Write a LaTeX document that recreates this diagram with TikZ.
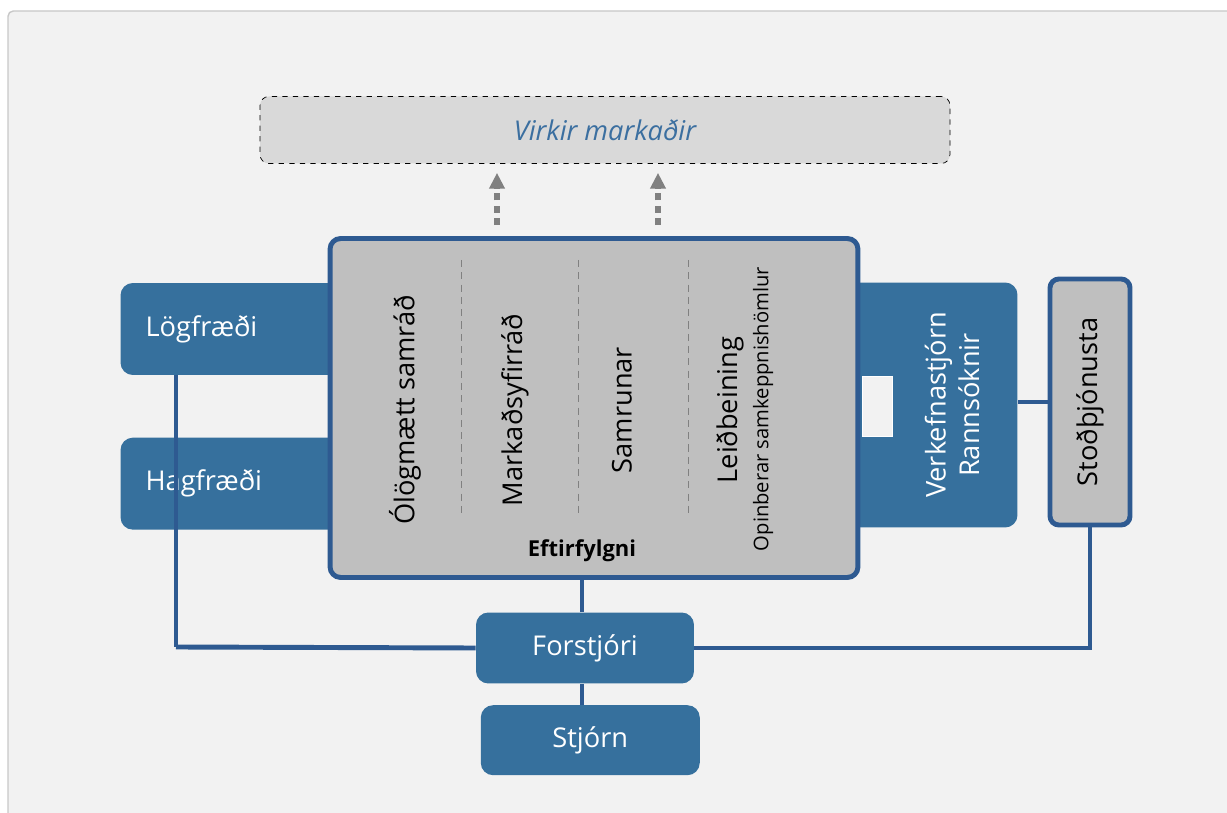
\documentclass[tikz,border=0pt]{standalone}
\usepackage{fontspec}
\setmainfont{Open Sans}
\usetikzlibrary{arrows.meta, positioning}
\definecolor{fenblue}{RGB}{54,112,157}
\definecolor{fenline}{RGB}{46,90,145}
\definecolor{fengrey}{RGB}{191,191,191}
\definecolor{fenpale}{RGB}{217,217,217}
\definecolor{fenbg}{RGB}{242,242,242}
\definecolor{fenframe}{RGB}{200,200,200}
\definecolor{fentext}{RGB}{59,111,160}

\begin{document}
\begin{tikzpicture}[
  x=0.02cm, y=-0.02cm,
  unit/.style={rectangle, rounded corners=7pt, fill=fenblue, text=white,
               font=\fontsize{15.5}{19}\selectfont, inner sep=0pt},
  side/.style={unit, minimum width=4.5cm, minimum height=1.84cm,
               text width=3.5cm, align=left},
  grey/.style={rectangle, rounded corners=6pt, draw=fenline, line width=2.8pt,
               fill=fengrey},
  col/.style={rotate=90, font=\fontsize{15.5}{19}\selectfont},
  link/.style={draw=fenline, line width=2.8pt},
  flow/.style={-{Triangle[length=9pt, width=8.5pt]}, line width=3pt,
               dash pattern=on 4pt off 3pt, gray}
]
\useasboundingbox (0,0) rectangle (1227,813);
\fill[white] (0,0) rectangle (1227,813);
\draw[fenframe, fill=fenbg, line width=0.8pt, rounded corners=3pt] (8,11) rectangle (1240,830);

\node[rectangle, rounded corners=5pt, draw, dashed, fill=fenpale,
      minimum width=13.8cm, minimum height=1.34cm, text=fentext,
      font=\fontsize{15.5}{19}\selectfont\itshape] (market) at (605,130) {Virkir markaðir};

\node[side] (law) at (233,329) {Lögfræði};
\node[side, below=1.24cm of law] (econ) {Hagfræði};
\node[unit, minimum width=3.94cm, minimum height=4.9cm] (research) at (919,405) {};
\node[grey, rounded corners=5pt, minimum width=1.6cm, minimum height=4.92cm] (stod) at (1090,402) {};
\node[col] at (stod) {Stoðþjónusta};

\coordinate (lcorner) at (176,647);
\draw[link] (law.south -| lcorner) -- (lcorner);

\node[grey, minimum width=10.56cm, minimum height=6.78cm] (core) at (594,408) {};
\fill[fenbg, draw=white, thin] (862,376) rectangle (892,436);
\node[col, text=white, align=center] (rtext) at (952,405) {Verkefnastjórn\\Rannsóknir};

\foreach \x in {461,578,688}
  \draw[gray, dash pattern=on 4pt off 3pt] (\x,260) -- (\x,515);
\node[col] (c1) at (405,410) {Ólögmætt samráð};
\node[col] (c2) at (515,410) {Markaðsyfirráð};
\node[col] (c3) at (622,410) {Samrunar};
\node[col] (c4) at (730,410) {Leiðbeining};
\node[rotate=90, font=\fontsize{11.5}{14}\selectfont] (c5) at (763,409) {Opinberar samkeppnishömlur};
\node[font=\fontsize{12.5}{15}\selectfont\bfseries] (follow) at (582,551) {Eftirfylgni};

\coordinate (a1) at (497,0);
\coordinate (a2) at (658,0);
\foreach \a in {a1,a2}
  \draw[flow, shorten <=0.22cm, shorten >=0.18cm] (core.north -| \a) -- (market.south -| \a);

\node[unit, minimum width=4.36cm, minimum height=1.42cm] (boss) at (585,648) {Forstjóri};
\node[unit, minimum width=4.38cm, minimum height=1.4cm, below=0.42cm of boss, xshift=3pt] (board) {Stjórn};

\draw[link] (lcorner) -- (boss.west);
\draw[link] (stod.south) |- (boss.east);
\draw[link] (stod.west) -- (stod.west -| research.east);
\draw[link] (boss.north -| 582,0) -- (core.south -| 582,0);
\draw[link] (boss.south -| 582,0) -- (board.north -| 582,0);
\end{tikzpicture}
\end{document}
